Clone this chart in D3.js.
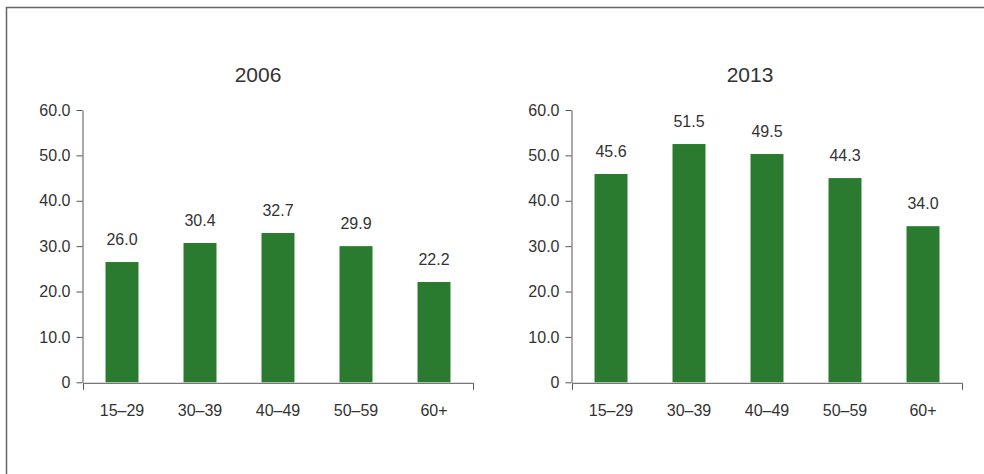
<!DOCTYPE html>
<html>
<head>
<meta charset="utf-8">
<script src="https://cdn.jsdelivr.net/npm/d3@7/dist/d3.min.js"></script>
<style>
  html, body { margin: 0; padding: 0; background: #fff; }
  svg { display: block; }
  text { font-family: "Liberation Sans", Arial, Helvetica, sans-serif; fill: #333; }
</style>
</head>
<body>
<svg id="chart" width="984" height="474"></svg>
<script>
// ---- data ----
const categories = ["15–29", "30–39", "40–49", "50–59", "60+"];
const titles = ["2006", "2013"];
const labels2006 = ["26.0", "30.4", "32.7", "29.9", "22.2"];
const labels2013 = ["45.6", "51.5", "49.5", "44.3", "34.0"];
// bar heights as drawn in the picture
const values2006 = [26.5, 30.7, 32.9, 30.0, 22.1];
const values2013 = [45.9, 52.5, 50.3, 45.0, 34.4];
const yTicks = [0, 10, 20, 30, 40, 50, 60];
const yTickLabels = ["0", "10.0", "20.0", "30.0", "40.0", "50.0", "60.0"];

const svg = d3.select("#chart");

// frame (top and left edges visible)
svg.append("path")
  .attr("d", "M6.5,480 V7.5 H990")
  .attr("fill", "none")
  .attr("stroke", "#666")
  .attr("stroke-width", 1.5);

const panels = [
  { title: titles[0], labels: labels2006, values: values2006, x0: 83, x1: 473, yAxisX: 82, titleX: 258 },
  { title: titles[1], labels: labels2013, values: values2013, x0: 572, x1: 962, yAxisX: 571, titleX: 750 }
];

const y = d3.scaleLinear().domain([0, 60]).range([382.3, 110]);
const green = "#2a7b30";
const axisColor = "#555";

panels.forEach(p => {
  const g = svg.append("g");
  const pIn = 0.577;
  const x = d3.scaleBand().domain(categories).range([p.x0, p.x1])
    .paddingInner(pIn).paddingOuter(pIn / 2);

  // title
  g.append("text")
    .attr("x", p.titleX).attr("y", 81.5)
    .attr("text-anchor", "middle")
    .style("font-size", "21px")
    .text(p.title);

  // bars
  g.selectAll("rect.bar").data(p.values).join("rect")
    .attr("class", "bar")
    .attr("x", (d, i) => x(categories[i]))
    .attr("width", x.bandwidth())
    .attr("y", d => y(d))
    .attr("height", d => y(0) - y(d))
    .attr("fill", green);

  // value labels
  g.selectAll("text.val").data(p.values).join("text")
    .attr("class", "val")
    .attr("x", (d, i) => x(categories[i]) + x.bandwidth() / 2)
    .attr("y", d => y(d) - 17)
    .attr("text-anchor", "middle")
    .style("font-size", "16px")
    .text((d, i) => p.labels[i]);

  // y axis
  const yAxis = d3.axisLeft(y).tickValues(yTicks)
    .tickFormat((d, i) => yTickLabels[i])
    .tickSize(6).tickSizeOuter(0).tickPadding(6);
  const ya = g.append("g").attr("transform", `translate(${p.yAxisX + 0.5},0)`).call(yAxis);
  ya.select(".domain").attr("stroke", axisColor);
  ya.selectAll(".tick line").attr("stroke", axisColor);
  ya.selectAll(".tick text").style("font-size", "16px").attr("fill", "#333")
    .style("font-family", "'Liberation Sans', Arial, sans-serif");

  // x axis
  const xAxis = d3.axisBottom(x).tickSizeInner(0).tickSizeOuter(7).tickPadding(22);
  const xa = g.append("g").attr("transform", `translate(0,${y(0) + 0.5})`).call(xAxis);
  xa.select(".domain").attr("stroke", axisColor);
  xa.selectAll(".tick text").style("font-size", "16px").attr("fill", "#333")
    .style("font-family", "'Liberation Sans', Arial, sans-serif");
});
</script>
</body>
</html>
